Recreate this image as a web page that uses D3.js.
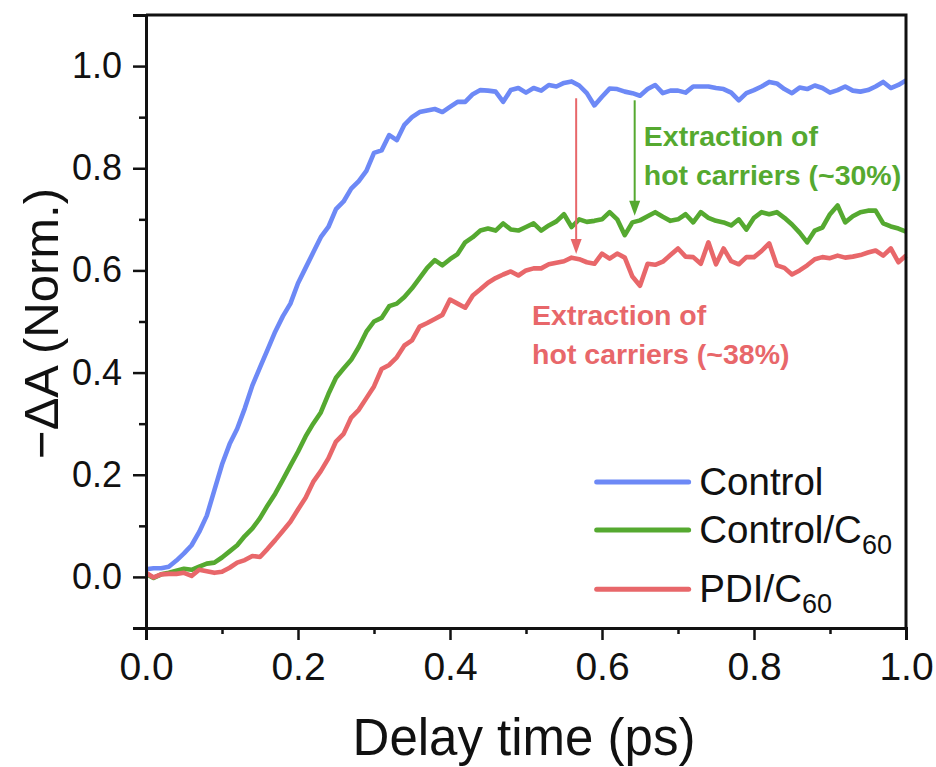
<!DOCTYPE html>
<html>
<head>
<meta charset="utf-8">
<script src="https://cdn.jsdelivr.net/npm/d3@7"></script>
<style>
    body { margin: 0; background: #fff; }
    text { font-family: "Liberation Sans", Arial, sans-serif; }
</style>
</head>
<body>
<div id="chart"></div>
<script>
// delay time (ps)
var delay = [0.00, 0.01, 0.02, 0.03, 0.04, 0.05, 0.06, 0.07, 0.08, 0.09,
    0.10, 0.11, 0.12, 0.13, 0.14, 0.15, 0.16, 0.17, 0.18, 0.19,
    0.20, 0.21, 0.22, 0.23, 0.24, 0.25, 0.26, 0.27, 0.28, 0.29,
    0.30, 0.31, 0.32, 0.33, 0.34, 0.35, 0.36, 0.37, 0.38, 0.39,
    0.40, 0.41, 0.42, 0.43, 0.44, 0.45, 0.46, 0.47, 0.48, 0.49,
    0.50, 0.51, 0.52, 0.53, 0.54, 0.55, 0.56, 0.57, 0.58, 0.59,
    0.60, 0.61, 0.62, 0.63, 0.64, 0.65, 0.66, 0.67, 0.68, 0.69,
    0.70, 0.71, 0.72, 0.73, 0.74, 0.75, 0.76, 0.77, 0.78, 0.79,
    0.80, 0.81, 0.82, 0.83, 0.84, 0.85, 0.86, 0.87, 0.88, 0.89,
    0.90, 0.91, 0.92, 0.93, 0.94, 0.95, 0.96, 0.97, 0.98, 0.99, 1.00];

var control = [0.015, 0.017, 0.017, 0.020, 0.032, 0.046, 0.062, 0.088, 0.12, 0.17,
    0.22, 0.26, 0.29, 0.33, 0.375, 0.41, 0.445, 0.48, 0.51, 0.535,
    0.575, 0.605, 0.635, 0.665, 0.685, 0.72, 0.735, 0.76, 0.775, 0.795,
    0.83, 0.835, 0.865, 0.855, 0.885, 0.90, 0.91, 0.913, 0.916, 0.91,
    0.92, 0.93, 0.93, 0.945, 0.953, 0.952, 0.95, 0.93, 0.953, 0.957,
    0.948, 0.957, 0.952, 0.963, 0.96, 0.967, 0.97, 0.962, 0.947, 0.923,
    0.94, 0.956, 0.955, 0.95, 0.947, 0.942, 0.955, 0.963, 0.947, 0.952,
    0.952, 0.948, 0.96, 0.96, 0.96, 0.957, 0.955, 0.948, 0.933, 0.947,
    0.953, 0.96, 0.969, 0.966, 0.955, 0.947, 0.958, 0.955, 0.962, 0.957,
    0.948, 0.953, 0.96, 0.952, 0.95, 0.953, 0.96, 0.969, 0.957, 0.963, 0.972];

var controlC60 = [0.006, -0.002, 0.005, 0.008, 0.012, 0.016, 0.014, 0.02, 0.026, 0.028,
    0.038, 0.05, 0.062, 0.08, 0.095, 0.115, 0.14, 0.163, 0.19, 0.218,
    0.245, 0.275, 0.30, 0.322, 0.358, 0.39, 0.408, 0.425, 0.45, 0.48,
    0.50, 0.507, 0.53, 0.535, 0.548, 0.565, 0.585, 0.605, 0.62, 0.61,
    0.622, 0.632, 0.655, 0.665, 0.678, 0.682, 0.678, 0.692, 0.68, 0.678,
    0.685, 0.692, 0.678, 0.688, 0.696, 0.71, 0.685, 0.70, 0.695, 0.697,
    0.70, 0.714, 0.70, 0.669, 0.694, 0.698, 0.706, 0.714, 0.705, 0.697,
    0.70, 0.71, 0.694, 0.714, 0.703, 0.697, 0.694, 0.688, 0.70, 0.68,
    0.703, 0.714, 0.71, 0.714, 0.703, 0.69, 0.674, 0.655, 0.678, 0.684,
    0.71, 0.727, 0.694, 0.706, 0.714, 0.717, 0.717, 0.692, 0.686, 0.682, 0.676];

var pdiC60 = [0.008, -0.001, 0.005, 0.006, 0.006, 0.008, 0.002, 0.014, 0.011, 0.008,
    0.01, 0.018, 0.028, 0.033, 0.041, 0.039, 0.055, 0.072, 0.09, 0.108,
    0.132, 0.155, 0.186, 0.207, 0.232, 0.265, 0.28, 0.312, 0.327, 0.35,
    0.373, 0.407, 0.415, 0.43, 0.453, 0.463, 0.49, 0.497, 0.505, 0.513,
    0.543, 0.535, 0.527, 0.551, 0.563, 0.576, 0.585, 0.592, 0.598, 0.59,
    0.60, 0.604, 0.604, 0.612, 0.615, 0.618, 0.625, 0.622, 0.616, 0.613,
    0.633, 0.623, 0.633, 0.625, 0.588, 0.57, 0.613, 0.611, 0.617, 0.63,
    0.643, 0.627, 0.626, 0.613, 0.655, 0.612, 0.643, 0.618, 0.612, 0.626,
    0.626, 0.638, 0.653, 0.61, 0.605, 0.592, 0.60, 0.61, 0.622, 0.626,
    0.624, 0.629, 0.625, 0.627, 0.63, 0.635, 0.639, 0.629, 0.643, 0.616, 0.629];

var seriesNames = ["Control", "Control/C", "PDI/C"];
var seriesSub = ["", "60", "60"];
var seriesColors = ["#6d89f6", "#55a930", "#e8676a"];

var xTicks = [0, 0.2, 0.4, 0.6, 0.8, 1.0];
var yTicks = [0, 0.2, 0.4, 0.6, 0.8, 1.0];

// arrows: time, from, to (data units)
var arrowTime = [0.566, 0.643];
var arrowFrom = [0.937, 0.933];
var arrowTo = [0.632, 0.707];
var arrowColors = ["#e8676a", "#55a930"];
var noteLines = [["Extraction of", "hot carriers (~38%)"], ["Extraction of", "hot carriers (~30%)"]];

var W = 936, H = 767;
var margin = { top: 15, right: 30, bottom: 139, left: 146 };
var width = W - margin.left - margin.right;
var height = H - margin.top - margin.bottom;

var x = d3.scaleLinear().domain([0, 1]).range([0, width]);
var y = d3.scaleLinear().domain([-0.1, 1.1]).range([height, 0]);

var svg = d3.select("#chart").append("svg")
    .attr("width", W)
    .attr("height", H)
    .append("g")
    .attr("transform", "translate(" + margin.left + "," + margin.top + ")");

// series
var allSeries = [control, controlC60, pdiC60];
var line = d3.line()
    .x(function (d, i) { return x(delay[i]); })
    .y(function (d) { return y(d); });

allSeries.forEach(function (s, k) {
    svg.append("path")
        .datum(s)
        .attr("fill", "none")
        .attr("stroke", seriesColors[k])
        .attr("stroke-width", 4.6)
        .attr("stroke-linejoin", "round")
        .attr("d", line);
});

// arrows
arrowTime.forEach(function (t, k) {
    var x0 = x(t), yA = y(arrowFrom[k]), yB = y(arrowTo[k]);
    svg.append("line")
        .attr("x1", x0).attr("x2", x0)
        .attr("y1", yA).attr("y2", yB - 12)
        .attr("stroke", arrowColors[k])
        .attr("stroke-width", 2);
    svg.append("path")
        .attr("d", "M" + (x0 - 5.5) + "," + (yB - 15) + "L" + (x0 + 5.5) + "," + (yB - 15) + "L" + x0 + "," + yB + "Z")
        .attr("fill", arrowColors[k]);
});

// annotation text
var notePos = [[x(0.508), y(0.494)], [x(0.655), y(0.844)]];
noteLines.forEach(function (lines, k) {
    var t = svg.append("text")
        .attr("x", notePos[k][0])
        .attr("y", notePos[k][1])
        .attr("fill", arrowColors[k])
        .style("font-size", "28.5px")
        .style("font-weight", "bold");
    lines.forEach(function (l, j) {
        t.append("tspan")
            .attr("x", notePos[k][0])
            .attr("dy", j === 0 ? 0 : 39)
            .text(l);
    });
});

// axes
var xAxis = svg.append("g")
    .attr("transform", "translate(0," + height + ")")
    .call(d3.axisBottom(x).tickValues(xTicks).tickSize(12).tickPadding(12)
        .tickFormat(d3.format(".1f")));
svg.append("g")
    .attr("transform", "translate(0," + height + ")")
    .call(d3.axisBottom(x).tickValues([0.1, 0.3, 0.5, 0.7, 0.9]).tickSize(6).tickFormat(""));

var yAxis = svg.append("g")
    .call(d3.axisLeft(y).tickValues(yTicks).tickSize(13).tickPadding(11)
        .tickFormat(d3.format(".1f")));
svg.append("g")
    .call(d3.axisLeft(y).tickValues([-0.1, 0.1, 0.3, 0.5, 0.7, 0.9]).tickSize(7).tickFormat(""));

svg.selectAll(".domain").attr("stroke-width", 3).attr("stroke", "#111");
svg.selectAll(".tick line").attr("stroke-width", 2.5).attr("stroke", "#111");
xAxis.selectAll("text").style("font-size", "39px").attr("fill", "#111")
    .style("font-family", "'Liberation Sans', Arial, sans-serif");
yAxis.selectAll("text").style("font-size", "36px").attr("fill", "#111")
    .style("font-family", "'Liberation Sans', Arial, sans-serif");

// top and right frame
svg.append("path")
    .attr("d", "M0,0H" + width + "V" + height)
    .attr("fill", "none")
    .attr("stroke", "#111")
    .attr("stroke-width", 3);

// axis titles
svg.append("text")
    .attr("x", width / 2 - 2)
    .attr("y", height + 127)
    .attr("text-anchor", "middle")
    .style("font-size", "51px")
    .attr("fill", "#111")
    .text("Delay time (ps)");

svg.append("text")
    .attr("transform", "translate(" + (-88) + "," + (y(0.5) + 2) + ") rotate(-90)")
    .attr("text-anchor", "middle")
    .style("font-size", "49px")
    .attr("fill", "#111")
    .text("\u2212\u0394A (Norm.)");

// legend
var legendY = [0.186, 0.092, -0.024];
seriesNames.forEach(function (name, k) {
    var ly = y(legendY[k]);
    svg.append("line")
        .attr("x1", x(0.593)).attr("x2", x(0.714))
        .attr("y1", ly).attr("y2", ly)
        .attr("stroke", seriesColors[k])
        .attr("stroke-width", 5)
        .attr("stroke-linecap", "round");
    var t = svg.append("text")
        .attr("x", x(0.728))
        .attr("y", ly + 13)
        .style("font-size", "38.5px")
        .attr("fill", "#111")
        .text(name);
    if (seriesSub[k]) {
        t.append("tspan")
            .attr("dy", 11)
            .style("font-size", "27px")
            .text(seriesSub[k]);
    }
});
</script>
</body>
</html>
